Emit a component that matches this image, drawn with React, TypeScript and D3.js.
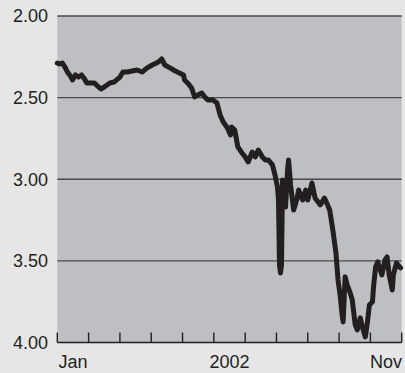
import React from "react";
import * as d3 from "d3";

const W = 405;
const H = 373;

const dates = [
  "2002-01-01","2002-01-03","2002-01-06","2002-01-09","2002-01-11","2002-01-14","2002-01-16","2002-01-19",
  "2002-01-22","2002-01-25","2002-01-28","2002-01-30","2002-02-04","2002-02-06","2002-02-09","2002-02-12",
  "2002-02-15","2002-02-20","2002-02-24","2002-03-01","2002-03-04","2002-03-08","2002-03-13","2002-03-18",
  "2002-03-23","2002-03-28","2002-04-02","2002-04-06","2002-04-09","2002-04-11","2002-04-14","2002-04-19",
  "2002-04-24","2002-04-28","2002-05-02","2002-05-03","2002-05-06","2002-05-10","2002-05-13","2002-05-16",
  "2002-05-20","2002-05-23","2002-05-26","2002-05-31","2002-06-04","2002-06-07","2002-06-10","2002-06-14",
  "2002-06-17","2002-06-18","2002-06-21","2002-06-24","2002-06-28","2002-07-01","2002-07-04","2002-07-08",
  "2002-07-11","2002-07-14","2002-07-18","2002-07-21","2002-07-24","2002-07-28","2002-07-31","2002-08-02",
  "2002-08-03","2002-08-04","2002-08-05","2002-08-06","2002-08-07","2002-08-09","2002-08-10","2002-08-12",
  "2002-08-13","2002-08-15","2002-08-18","2002-08-21","2002-08-23","2002-08-27","2002-08-30","2002-09-01",
  "2002-09-05","2002-09-08","2002-09-13","2002-09-17","2002-09-20","2002-09-22","2002-09-25","2002-09-28",
  "2002-09-30","2002-10-02","2002-10-04","2002-10-05","2002-10-07","2002-10-09","2002-10-12","2002-10-14",
  "2002-10-17","2002-10-19","2002-10-22","2002-10-24","2002-10-27","2002-10-29","2002-10-31","2002-11-03",
  "2002-11-04","2002-11-06","2002-11-08","2002-11-12","2002-11-15","2002-11-17","2002-11-19","2002-11-22",
  "2002-11-23","2002-11-26","2002-11-28","2002-11-30",
];

const values = [
  2.288,2.294,2.288,2.318,2.343,2.367,2.392,2.361,
  2.374,2.361,2.386,2.410,2.410,2.410,2.429,2.447,
  2.435,2.410,2.404,2.374,2.343,2.343,2.337,2.331,
  2.343,2.318,2.300,2.288,2.276,2.263,2.300,2.318,
  2.337,2.349,2.361,2.392,2.410,2.441,2.496,2.484,
  2.472,2.496,2.514,2.514,2.533,2.606,2.649,2.686,
  2.729,2.680,2.698,2.802,2.839,2.863,2.894,2.833,
  2.863,2.821,2.863,2.882,2.882,2.912,2.986,3.047,
  3.127,3.525,3.574,3.525,3.004,3.035,3.170,2.943,
  2.882,3.035,3.188,3.127,3.066,3.127,3.066,3.127,
  3.023,3.115,3.157,3.115,3.157,3.188,3.310,3.451,
  3.617,3.708,3.831,3.874,3.598,3.647,3.696,3.739,
  3.892,3.923,3.849,3.904,3.966,3.880,3.770,3.751,
  3.660,3.537,3.506,3.586,3.494,3.476,3.586,3.678,
  3.586,3.513,3.531,3.543,
];

const yTicks = [2.0, 2.5, 3.0, 3.5, 4.0];
const monthTicks = d3.range(0, 12);
const xLabels = [
  { pos: 0.5, text: "Jan" },
  { pos: 5.5, text: "2002" },
  { pos: 10.5, text: "Nov" },
];

const parse = d3.timeParse("%Y-%m-%d");
function monthPos(s: string): number {
  const d = parse(s) as Date;
  const m = d.getMonth();
  const days = new Date(d.getFullYear(), m + 1, 0).getDate();
  return m + (d.getDate() - 1) / days;
}

export default function App() {
  const left = 57.3;
  const right = 401.7;
  const top = 16;
  const bottom = 342.5;

  const x = d3.scaleLinear().domain([0, 11]).range([left, right]);
  const y = d3.scaleLinear().domain([2, 4]).range([top, bottom]);

  const pts = dates.map((d, i) => ({ p: monthPos(d), v: values[i] }));
  const line = d3
    .line<{ p: number; v: number }>()
    .x((d) => x(d.p))
    .y((d) => y(d.v))
    .curve(d3.curveLinear);

  const font = "'Liberation Sans', Arial, Helvetica, sans-serif";
  const ink = "#231f20";

  return (
    <svg
      width={W}
      height={H}
      style={{ position: "fixed", left: 0, top: 0, display: "block" }}
    >
      <rect x={0} y={0} width={W} height={H} fill="#e6e6e6" />
      <rect x={left} y={top} width={right - left} height={bottom - top} fill="#bebfc3" />
      {yTicks.slice(0, 4).map((t) => (
        <line key={t} x1={left} x2={right} y1={y(t)} y2={y(t)} stroke="#4a4a4c" strokeWidth={1.4} />
      ))}
      <line x1={left} x2={right} y1={bottom} y2={bottom} stroke={ink} strokeWidth={1.4} />
      {monthTicks.map((m) => (
        <line key={m} x1={x(m)} x2={x(m)} y1={bottom} y2={bottom - 10} stroke={ink} strokeWidth={1.4} />
      ))}
      {yTicks.map((t) => (
        <text
          key={t}
          x={48}
          y={y(t)}
          dy="0.36em"
          textAnchor="end"
          fontFamily={font}
          fontSize={18}
          fill={ink}
        >
          {d3.format(".2f")(t)}
        </text>
      ))}
      {xLabels.map((l) => (
        <text
          key={l.text}
          x={x(l.pos)}
          y={368}
          textAnchor="middle"
          fontFamily={font}
          fontSize={18}
          fill={ink}
        >
          {l.text}
        </text>
      ))}
      <path
        d={line(pts) || ""}
        fill="none"
        stroke={ink}
        strokeWidth={5}
        strokeLinejoin="round"
        strokeLinecap="round"
      />
    </svg>
  );
}
